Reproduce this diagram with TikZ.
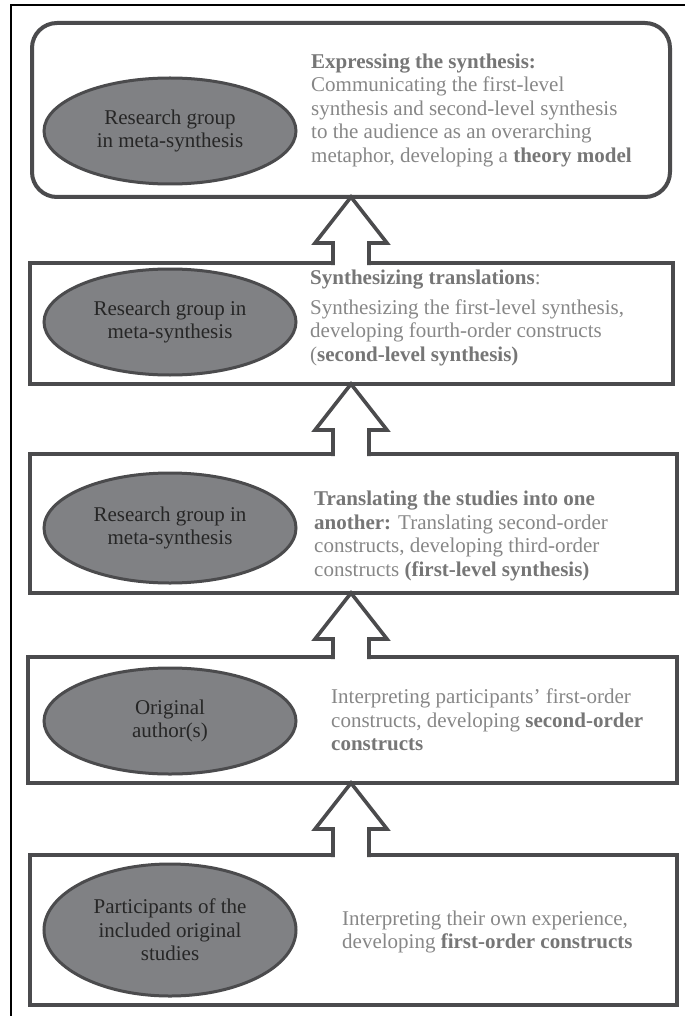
\documentclass[tikz,border=0pt]{standalone}
\usepackage{fontspec}
\setmainfont{Liberation Serif}
\usetikzlibrary{shapes.geometric,calc}
\definecolor{lineg}{HTML}{4B4B4D}
\definecolor{fillg}{HTML}{808184}
\definecolor{txtg}{HTML}{878787}
\definecolor{boldg}{HTML}{767676}
\definecolor{ellt}{HTML}{262626}
\newcommand\hb[1]{\textbf{\color{boldg}#1}}
\begin{document}
\begin{tikzpicture}[x=1pt,y=-1pt,
  boxst/.style={draw=lineg, line width=4pt, rectangle, outer sep=0pt, inner sep=0pt, anchor=north west},
  ell/.style={ellipse, draw=lineg, line width=3pt, fill=fillg, inner sep=0pt, text=ellt,
    font=\fontsize{21}{23.5}\selectfont, align=center, minimum width=252pt},
  desc/.style={anchor=west, text=txtg, font=\fontsize{21}{23.5}\selectfont, align=left, inner sep=0pt},
  arr/.style={draw=lineg, line width=3.6pt, line join=miter, miter limit=10},
]
\useasboundingbox (0,0) rectangle (685,1016);
\fill[white] (0,0) rectangle (685,1016);
% outer frame (top and left)
\draw[black, line width=2.2pt] (11,1016) -- (11,5) -- (685,5);

% boxes
\node[boxst, rounded corners=25pt, minimum width=638pt, minimum height=174pt] (b1) at (32,23) {};
\node[boxst, minimum width=643pt, minimum height=121pt] (b2) at (30,263) {};
\node[boxst, minimum width=647pt, minimum height=139pt] (b3) at (30,454) {};
\node[boxst, minimum width=649pt, minimum height=126pt] (b4) at (28,657) {};
\node[boxst, minimum width=647pt, minimum height=150pt] (b5) at (30,855) {};

% ellipses
\node[ell, minimum height=106pt] (e1) at (170,131) {Research group\\in meta-synthesis};
\node[ell, minimum height=106pt] (e2) at (170,322) {Research group in\\meta-synthesis};
\node[ell, minimum height=110pt] (e3) at (170,528) {Research group in\\meta-synthesis};
\node[ell, minimum height=106pt] (e4) at (170,721) {Original\\author(s)};
\node[ell, minimum height=132pt] (e5) at (170,930) {Participants of the\\included original\\studies};

% descriptions
\node[desc] (t1) at (311,110) {\hb{Expressing the synthesis:}\\Communicating the first-level\\synthesis and second-level synthesis\\to the audience as an overarching\\metaphor, developing a \hb{theory model}};
\node[desc] (t2) at (310,318) {\hb{Synthesizing translations}:\\[6pt]Synthesizing the first-level synthesis,\\developing fourth-order constructs\\(\hb{second-level synthesis)}};
\node[desc] (t3) at (314,536) {\hb{Translating the studies into one}\\\hb{another:} Translating second-order\\constructs, developing third-order\\constructs \hb{(first-level synthesis)}};
\node[desc] (t4) at (331,720) {Interpreting participants’ first-order\\constructs, developing \hb{second-order}\\\hb{constructs}};
\node[desc] (t5) at (342,932) {Interpreting their own experience,\\developing \hb{first-order constructs}};

% block arrows
\coordinate (ax) at (351,0);
\foreach \u/\l in {b1/b2,b2/b3,b3/b4,b4/b5}{
  \coordinate (tip) at (\u.south -| ax);
  \coordinate (foot) at (\l.north -| ax);
  \fill[white] ($(foot)+(-18,3)$) -- ($(tip)+(-18,46)$) -- ($(tip)+(-36,46)$) -- (tip)
     -- ($(tip)+(36,46)$) -- ($(tip)+(18,46)$) -- ($(foot)+(18,3)$) -- cycle;
  \draw[arr] ($(foot)+(-18,2)$) -- ($(tip)+(-18,46)$) -- ($(tip)+(-36,46)$) -- (tip)
     -- ($(tip)+(36,46)$) -- ($(tip)+(18,46)$) -- ($(foot)+(18,2)$);
}
\end{tikzpicture}
\end{document}
